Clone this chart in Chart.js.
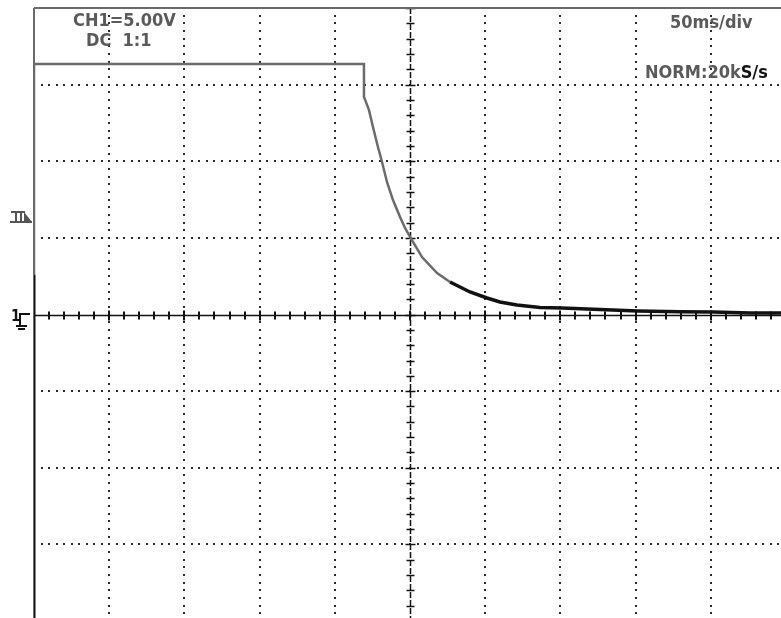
<!DOCTYPE html>
<html>
<head>
<meta charset="utf-8">
<script src="https://cdn.jsdelivr.net/npm/chart.js@4.4.1/dist/chart.umd.min.js"></script>
<style>
  html, body { margin: 0; padding: 0; background: #ffffff; }
  #wrap { position: relative; width: 781px; height: 618px; overflow: hidden; background: #fff; }
  canvas { position: absolute; left: 0; top: 0; }
  .lbl { position: absolute; font-family: "Liberation Sans Narrow", "DejaVu Sans Condensed", "Arial Narrow", sans-serif;
         font-weight: bold; font-size: 18px; color: #5a5a5a; line-height: 1; white-space: pre; }
  .dark { color: #111; }
</style>
</head>
<body>
<div id="wrap">
  <canvas id="c" width="781" height="618"></canvas>
  <div class="lbl" style="left:73px; top:11px;">CH1=5.00V</div>
  <div class="lbl" style="left:86px; top:31px;">DC  1:1</div>
  <div class="lbl" style="left:670px; top:13px;">50ms/div</div>
  <div class="lbl" style="left:645px; top:63px;">NORM:20k<span class="dark">S/s</span></div>
  <div class="lbl" style="left:11px; top:309px; color:#111; font-size:15px;">1</div>
</div>
<script>
// Time axis in ms (50 ms/div), voltage axis in V (5 V/div)
const timeMs = [0, 0, 0, 219.4, 219.4, 222.7, 225.4, 228.7, 231.4, 234.7, 238.7, 243.4, 246.7, 251.3, 258, 268, 276.6, 289.9, 301.2, 309.8, 321.1, 336.4, 351, 376.3, 401.6, 429.5, 451.5, 476, 496.7];
const ch1Volts = [-19.8, 2.6, 16.35, 16.35, 14.2, 13.35, 12.24, 10.93, 9.95, 8.65, 7.47, 6.36, 5.65, 4.86, 3.75, 2.7, 2.12, 1.47, 1.08, 0.82, 0.62, 0.46, 0.42, 0.33, 0.23, 0.18, 0.16, 0.1, 0.1];

const xDivTicks = [50, 100, 150, 200, 300, 350, 400, 450];   // dotted vertical grid
const yDivTicks = [-15, -10, -5, 5, 10, 15];                 // dotted horizontal grid
const xCenter = 250;
const yCenter = 0;
const triggerLevel = 6.5;

const xMin = 0, xMax = 496.7, yMin = -19.8, yMax = 20;

const points = timeMs.map((t, i) => ({ x: t, y: ch1Volts[i] }));

const scopeGrid = {
  id: 'scopeGrid',
  beforeDatasetsDraw(chart) {
    const ctx = chart.ctx;
    const xs = chart.scales.x, ys = chart.scales.y;
    const a = chart.chartArea;
    ctx.save();
    // dotted grid
    ctx.fillStyle = '#2a2a2a';
    xDivTicks.forEach(v => {
      const px = Math.round(xs.getPixelForValue(v));
      for (let y = yMax; y >= yMin; y -= 0.5) {
        const py = ys.getPixelForValue(y);
        ctx.fillRect(px - 1, Math.round(py) - 1, 2, 2);
      }
    });
    yDivTicks.forEach(v => {
      const py = Math.round(ys.getPixelForValue(v));
      for (let t = xMin + 5; t <= xMax; t += 5) {
        const px = xs.getPixelForValue(t);
        ctx.fillRect(Math.round(px) - 1, py - 1, 2, 2);
      }
    });
    // center horizontal axis (solid with ticks)
    const cy = Math.round(ys.getPixelForValue(yCenter)) + 0.5;
    ctx.strokeStyle = '#111';
    ctx.lineWidth = 1.5;
    ctx.beginPath();
    ctx.moveTo(a.left, cy); ctx.lineTo(a.right, cy);
    ctx.stroke();
    ctx.lineWidth = 2;
    for (let t = 10; t <= xMax; t += 10) {
      const px = Math.round(xs.getPixelForValue(t));
      const h = (t % 50 === 0) ? 5 : 4;
      ctx.beginPath();
      ctx.moveTo(px, cy - h); ctx.lineTo(px, cy + h);
      ctx.stroke();
    }
    // center vertical axis (dashed with ticks)
    const cx = Math.round(xs.getPixelForValue(xCenter)) + 0.5;
    ctx.lineWidth = 1.5;
    ctx.setLineDash([6, 2]);
    ctx.beginPath();
    ctx.moveTo(cx, a.top); ctx.lineTo(cx, a.bottom);
    ctx.stroke();
    ctx.setLineDash([]);
    ctx.lineWidth = 1.5;
    for (let v = Math.ceil(yMin); v <= yMax; v += 1) {
      const py = Math.round(ys.getPixelForValue(v)) + 0.5;
      const w = (v % 5 === 0) ? 5 : 4;
      ctx.beginPath();
      ctx.moveTo(cx - w, py); ctx.lineTo(cx + w, py);
      ctx.stroke();
    }
    // border (top and left)
    ctx.strokeStyle = '#6a6a6a';
    ctx.lineWidth = 2;
    ctx.beginPath();
    ctx.moveTo(a.left, a.top); ctx.lineTo(a.right, a.top);
    ctx.moveTo(a.left, a.top); ctx.lineTo(a.left, a.bottom);
    ctx.stroke();
    ctx.restore();
  },
  afterDraw(chart) {
    const ctx = chart.ctx;
    const ys = chart.scales.y;
    const a = chart.chartArea;
    ctx.save();
    // trigger marker
    const ty = Math.round(ys.getPixelForValue(triggerLevel)) + 1;
    ctx.strokeStyle = '#555';
    ctx.fillStyle = '#555';
    ctx.lineWidth = 2;
    ctx.beginPath();
    ctx.moveTo(11, ty - 4); ctx.lineTo(25, ty - 4);
    ctx.moveTo(16, ty - 4); ctx.lineTo(16, ty + 5);
    ctx.moveTo(21, ty - 4); ctx.lineTo(21, ty + 5);
    ctx.moveTo(10, ty + 6); ctx.lineTo(a.left - 2, ty + 6);
    ctx.stroke();
    ctx.beginPath();
    ctx.moveTo(24, ty - 4); ctx.lineTo(a.left - 2, ty + 6); ctx.lineTo(24, ty + 6);
    ctx.closePath();
    ctx.fill();
    // ground marker
    const gy = Math.round(ys.getPixelForValue(yCenter));
    ctx.strokeStyle = '#111';
    ctx.lineWidth = 2;
    ctx.beginPath();
    ctx.moveTo(19, gy - 1); ctx.lineTo(30, gy - 1);
    ctx.moveTo(20, gy - 1); ctx.lineTo(20, gy + 10);
    ctx.moveTo(16, gy + 11); ctx.lineTo(27, gy + 11);
    ctx.moveTo(18, gy + 14); ctx.lineTo(25, gy + 14);
    ctx.stroke();
    ctx.restore();
  }
};

new Chart(document.getElementById('c'), {
  type: 'line',
  data: {
    datasets: [{
      data: points,
      borderColor: '#6b6b6b',
      borderWidth: 2.5,
      pointRadius: 0,
      tension: 0,
      fill: false,
      segment: {
        borderColor: ctx => {
          if (ctx.p0.parsed.x >= 272) return '#111';
          if (ctx.p0.parsed.x === 0 && ctx.p1.parsed.x === 0 && ctx.p0.parsed.y < 0) return '#111';
          return '#6b6b6b';
        },
        borderWidth: ctx => (ctx.p0.parsed.x >= 272 ? 3.5 : (ctx.p0.parsed.x === 0 && ctx.p1.parsed.x === 0 && ctx.p0.parsed.y < 0 ? 3 : 2.5))
      }
    }]
  },
  options: {
    responsive: false,
    animation: false,
    layout: { padding: { left: 34, top: 8, right: 0, bottom: 0 } },
    plugins: { legend: { display: false }, tooltip: { enabled: false }, title: { display: false } },
    scales: {
      x: { type: 'linear', min: xMin, max: xMax, display: false },
      y: { type: 'linear', min: yMin, max: yMax, display: false }
    },
    elements: { line: { borderCapStyle: 'butt', borderJoinStyle: 'miter' } }
  },
  plugins: [scopeGrid]
});
</script>
</body>
</html>
